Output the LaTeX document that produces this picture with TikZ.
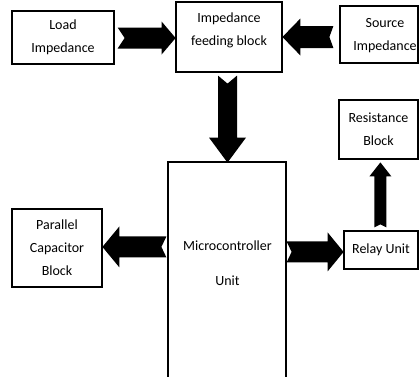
\documentclass[tikz,border=0pt]{standalone}
\usepackage{fontspec}
\setmainfont{Carlito}
\usetikzlibrary{calc}
\tikzset{
  box/.style={draw=black, line width=1.2pt, fill=white, inner sep=0pt, align=center,
    font=\fontsize{14}{23}\selectfont},
  txt/.style={inner sep=0pt, align=center, font=\fontsize{14}{23}\selectfont},
  pics/barrow/.style n args={5}{code={
    \fill[black] (0,#2) -- ({#1-#4},#2) -- ({#1-#4},#3) -- (#1,0) -- ({#1-#4},-#3)
      -- ({#1-#4},-#2) -- (0,-#2) -- (#5,0) -- cycle;
  }}
}
\begin{document}
\begin{tikzpicture}[x=1pt,y=-1pt]
\useasboundingbox[fill=white] (0,0) rectangle (420,376);
% boxes
\node[box, minimum width=102, minimum height=53] (load) at (63,37.5) {Load\\Impedance};
\node[box, minimum width=106, minimum height=70] (feed) at (229,37) {};
\node[txt] (feedtxt) at (229,30) {Impedance\\feeding block};
\node[box, minimum width=78, minimum height=57] (source) at (379,34.5) {};
\node[txt] (sourcetxt) at (385,35.5) {Source\\Impedance};
\node[box, minimum width=79, minimum height=59] (res) at (378.5,129.5) {Resistance\\Block};
\node[box, minimum width=118, minimum height=228] (micro) at (227,276) {};
\node[txt, font=\fontsize{14}{35}\selectfont] (microtxt) at (227.5,263.5) {Microcontroller\\Unit};
\node[box, minimum width=90, minimum height=78] (par) at (57,248) {Parallel\\Capacitor\\Block};
\node[box, minimum width=74, minimum height=38] (relay) at (381,250) {Relay Unit};
% block arrows
\pic at ($(load.east)+(3,0.5)$) {barrow={58}{10.5}{16.5}{14}{7}};
\pic[rotate=180] at ($(source.west)+(-6,2.5)$) {barrow={51}{11}{18.5}{18}{4}};
\pic[rotate=-90] at ($(feed.south)+(-1.5,3)$) {barrow={87}{9.5}{18.5}{25}{8}};
\pic[rotate=180] at ($(micro.north west)+(-1,85.5)$) {barrow={64}{10.5}{20.5}{17}{5}};
\pic at ($(micro.north east)+(0,90.5)$) {barrow={57}{10.5}{19.5}{16}{5}};
\pic[rotate=90] at ($(relay.north west)+(37,-3)$) {barrow={65}{6}{11}{14}{3}};
\end{tikzpicture}
\end{document}
